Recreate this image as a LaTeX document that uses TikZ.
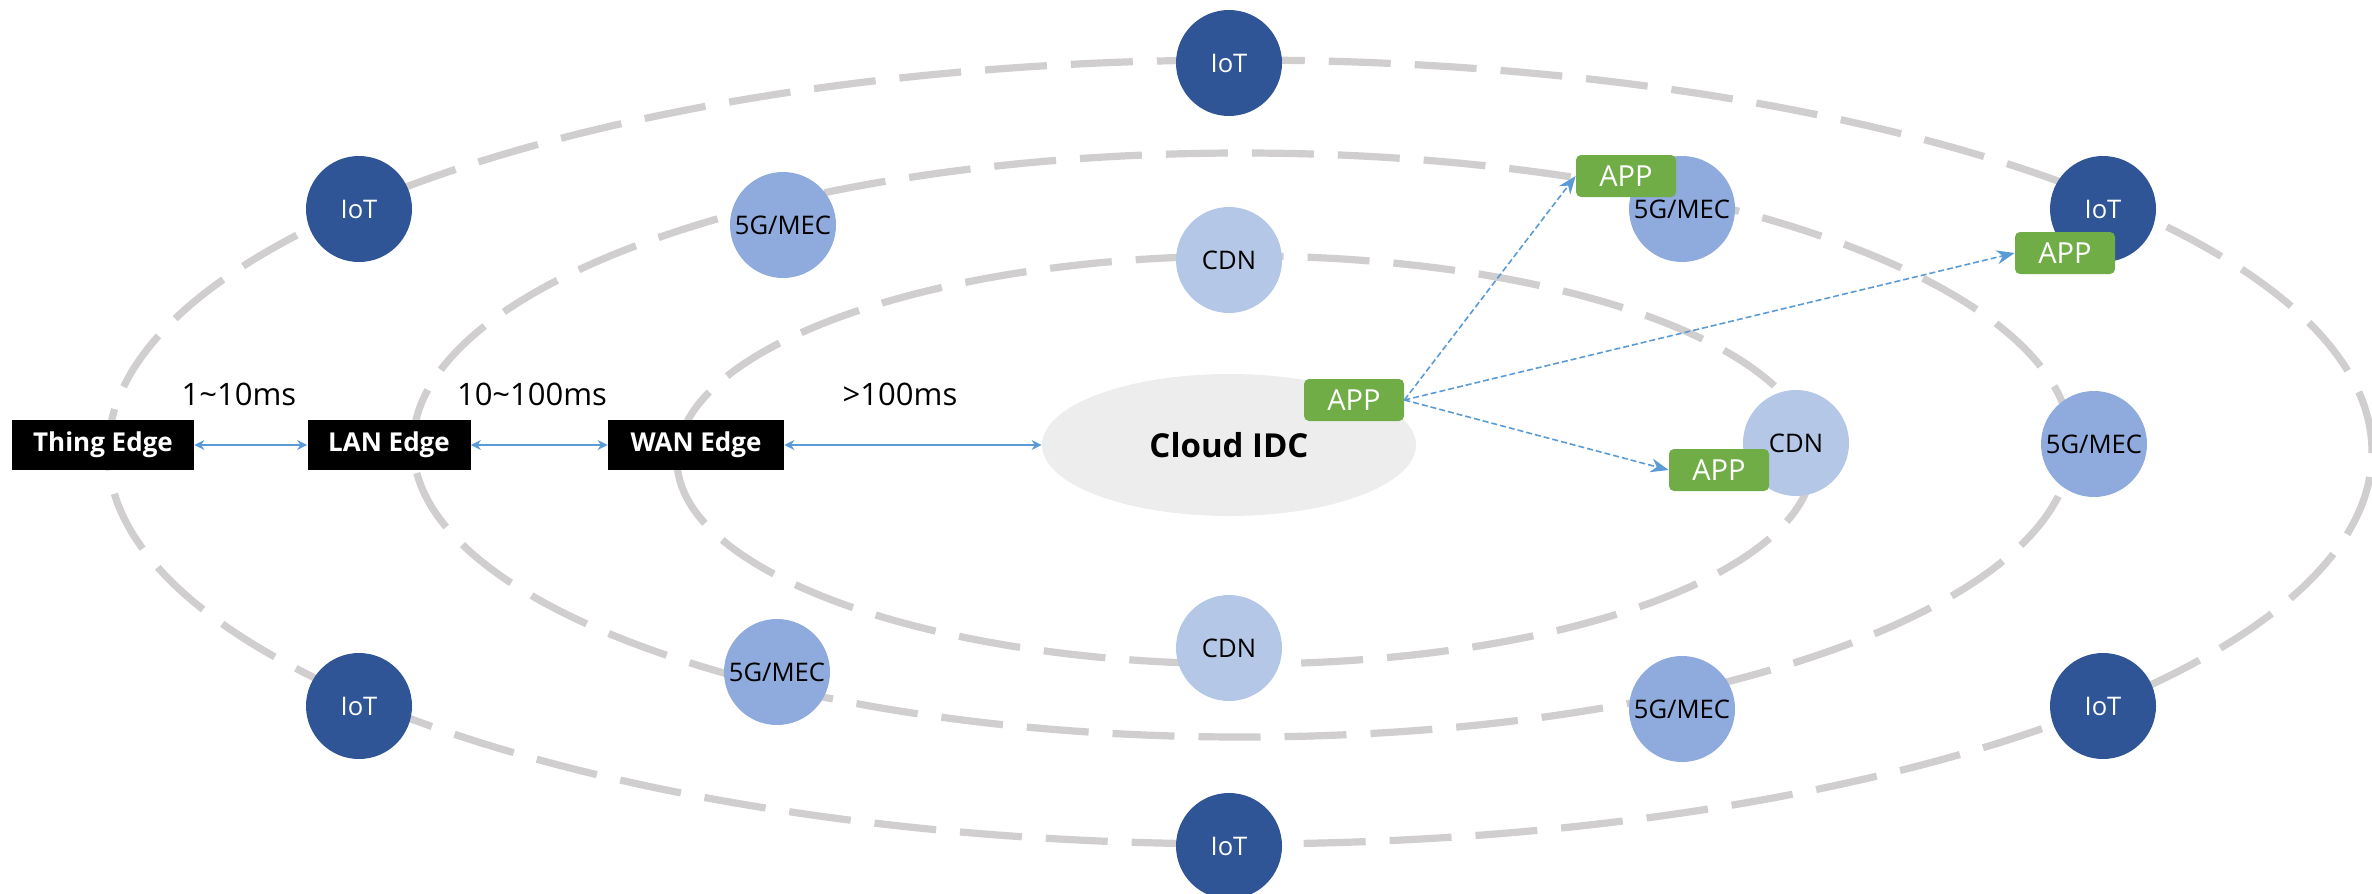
\documentclass[tikz,border=0pt]{standalone}
\usepackage{fontspec}
\setmainfont{Open Sans}
\usetikzlibrary{arrows.meta,shapes.geometric}
\definecolor{iotblue}{HTML}{2F5597}
\definecolor{mecblue}{HTML}{8FAADC}
\definecolor{cdnblue}{HTML}{B4C7E7}
\definecolor{appgreen}{HTML}{70AD47}
\definecolor{ringgray}{HTML}{D0CECE}
\definecolor{linkblue}{HTML}{5B9BD5}
\definecolor{cloudgray}{HTML}{EDEDED}

\begin{document}
\begin{tikzpicture}[x=0.5pt,y=-0.5pt,
    ring/.style={ringgray, line width=3.6pt, dash pattern=on 31pt off 12pt},
    site/.style={circle, minimum size=53pt, inner sep=0pt, font=\fontsize{12.8}{14}\selectfont},
    iot/.style={site, fill=iotblue, text=white},
    mec/.style={site, fill=mecblue},
    cdn/.style={site, fill=cdnblue},
    app/.style={fill=appgreen, rounded corners=2.5pt, minimum width=50pt, minimum height=21pt, inner sep=0pt, text=white, font=\fontsize{14.5}{16}\selectfont},
    tier/.style={fill=black, text=white, minimum height=25pt, inner sep=0pt, font=\bfseries\fontsize{13}{15}\selectfont},
    delay/.style={font=\fontsize{15.5}{17}\selectfont},
    link/.style={linkblue, line width=0.75pt, {Stealth[length=5pt,width=5pt]}-{Stealth[length=5pt,width=5pt]}},
    push/.style={linkblue, line width=0.8pt, dash pattern=on 3pt off 1.5pt, -{Stealth[length=9pt,width=7pt]}}]
    \useasboundingbox (0,0) rectangle (2372,894);

    % latency rings
    \draw[ring] (1240,452) ellipse [x radius=566pt, y radius=196pt];
    \draw[ring] (1242,445) ellipse [x radius=414.5pt, y radius=146pt];
    \draw[ring] (1245,460) ellipse [x radius=284pt, y radius=102pt];

    \node[ellipse, fill=cloudgray, minimum width=187pt, minimum height=71pt, font=\bfseries\fontsize{16.5}{18}\selectfont] (cloud) at (1229,445) {Cloud IDC};

    \foreach \n/\x/\y in {iota/1229/63, iotb/359/209, iotc/2103/209, iotd/359/706, iote/2103/706, iotf/1229/846}{
        \node[iot] (\n) at (\x,\y) {IoT};
    }
    \foreach \n/\x/\y in {meca/783/225, mecb/1682/209, mecc/2094/444, mecd/777/672, mece/1682/709}{
        \node[mec] (\n) at (\x,\y) {5G/MEC};
    }
    \foreach \n/\x/\y in {cdna/1229/260, cdnb/1796/443, cdnc/1229/648}{
        \node[cdn] (\n) at (\x,\y) {CDN};
    }

    \node[tier, minimum width=91pt] (thing) at (103,445) {Thing Edge};
    \node[tier, minimum width=81.5pt] (lan) at (389,445) {LAN Edge};
    \node[tier, minimum width=88pt] (wan) at (696,445) {WAN Edge};

    \node[delay] (d1) at (239,394) {1\textasciitilde 10ms};
    \node[delay] (d2) at (532,394) {10\textasciitilde 100ms};
    \node[delay] (d3) at (900,394) {>100ms};

    \draw[link] (thing) -- (lan);
    \draw[link] (lan) -- (wan);
    \draw[link] (wan) -- (cloud);

    \node[app] (appc) at (1354,400) {APP};
    \node[app] (appt) at (1626,176) {APP};
    \node[app] (appr) at (2065,253) {APP};
    \node[app] (appb) at (1719,470) {APP};

    \foreach \t in {appt, appr, appb}{
        \draw[push] (appc.east) -- (\t.west);
    }
\end{tikzpicture}
\end{document}
